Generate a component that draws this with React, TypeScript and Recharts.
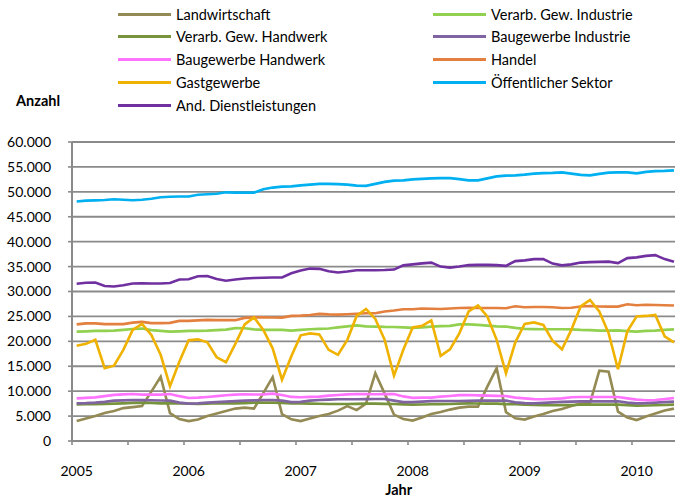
import React from 'react';
import { LineChart, Line, XAxis, YAxis, CartesianGrid, Legend, Label } from 'recharts';

// ---------- data ----------
const yearLabels = ['2005', '2006', '2007', '2008', '2009', '2010'];

const seriesNames = [
  'Landwirtschaft',
  'Verarb. Gew. Industrie',
  'Verarb. Gew. Handwerk',
  'Baugewerbe Industrie',
  'Baugewerbe Handwerk',
  'Handel',
  'Gastgewerbe',
  'Öffentlicher Sektor',
  'And. Dienstleistungen',
];

const seriesColors = [
  '#948A54',
  '#92D050',
  '#77933C',
  '#8064A2',
  '#FF73FF',
  '#E3803F',
  '#F0B200',
  '#00B0F0',
  '#7030A0',
];

// monthly values, Jan 2005 .. May 2010
const landwirtschaft = [
  4000, 4500, 5000, 5600, 6000, 6600, 6800, 7000, 9900, 12900, 5600, 4400,
  4000, 4300, 5000, 5500, 6000, 6500, 6700, 6500, 9600, 12800, 5400, 4350,
  4000, 4500, 5000, 5400, 6100, 7000, 6200, 7500, 13600, 9500, 5300, 4400,
  4100, 4700, 5400, 5800, 6300, 6700, 6900, 6900, 10900, 14600, 5800, 4550,
  4300, 4900, 5400, 6000, 6400, 7000, 7500, 7600, 14100, 13900, 5900, 4700,
  4200, 4900, 5500, 6100, 6500,
];
const verarbIndustrie = [
  21950, 22000, 22090, 22100, 22150, 22300, 22490, 22560, 22250, 22100, 21950, 22000,
  22090, 22100, 22150, 22250, 22350, 22650, 22620, 22400, 22300, 22330, 22300, 22150,
  22300, 22420, 22500, 22560, 22800, 23000, 23200, 23000, 22960, 22900, 22890, 22800,
  22700, 22800, 22960, 23050, 23100, 23400, 23400, 23300, 23150, 23000, 22960, 22700,
  22500, 22450, 22420, 22420, 22420, 22400, 22300, 22250, 22150, 22150, 22200, 22050,
  21950, 22100, 22150, 22300, 22400,
];
const verarbHandwerk = [
  7350, 7380, 7400, 7450, 7500, 7560, 7650, 7700, 7650, 7560, 7560, 7550,
  7500, 7430, 7480, 7560, 7560, 7560, 7600, 7700, 7700, 7700, 7650, 7560,
  7560, 7500, 7460, 7430, 7430, 7430, 7450, 7500, 7500, 7450, 7430, 7350,
  7300, 7330, 7360, 7400, 7430, 7500, 7560, 7530, 7500, 7500, 7400, 7360,
  7300, 7230, 7200, 7160, 7200, 7230, 7260, 7300, 7300, 7300, 7300, 7200,
  7100, 7130, 7160, 7230, 7300,
];
const bauIndustrie = [
  7550, 7600, 7700, 7850, 8100, 8150, 8230, 8200, 8170, 8120, 8100, 7700,
  7500, 7550, 7700, 7800, 7900, 8000, 8100, 8150, 8230, 8230, 8100, 7800,
  7850, 8100, 8230, 8300, 8370, 8370, 8370, 8400, 8430, 8430, 8100, 7800,
  7800, 7900, 8000, 8030, 8030, 8030, 8050, 8100, 8100, 8100, 8100, 7750,
  7600, 7560, 7650, 7760, 7850, 7900, 7950, 7960, 7960, 7960, 7960, 7700,
  7560, 7600, 7700, 7800, 7900,
];
const bauHandwerk = [
  8550, 8650, 8750, 9000, 9250, 9350, 9440, 9300, 9300, 9300, 9440, 9000,
  8630, 8700, 8830, 9000, 9170, 9300, 9370, 9320, 9350, 9500, 9240, 8850,
  8770, 8850, 8900, 9100, 9240, 9350, 9440, 9400, 9380, 9400, 9440, 8950,
  8650, 8700, 8700, 8900, 9040, 9200, 9240, 9150, 9100, 9060, 9040, 8700,
  8550, 8400, 8370, 8450, 8550, 8770, 8830, 8830, 8830, 8830, 8830, 8550,
  8300, 8170, 8230, 8400, 8630,
];
const handel = [
  23400, 23600, 23600, 23450, 23450, 23450, 23750, 23900, 23650, 23650, 23700, 24100,
  24100, 24200, 24300, 24250, 24250, 24250, 24700, 24800, 24800, 24780, 24760, 25100,
  25150, 25300, 25500, 25400, 25350, 25450, 25550, 25630, 25630, 26000, 26200, 26450,
  26450, 26600, 26550, 26500, 26600, 26700, 26750, 26700, 26700, 26700, 26650, 27050,
  26850, 26900, 26900, 26850, 26700, 26750, 27000, 27100, 27000, 26970, 26970, 27450,
  27250, 27350, 27300, 27250, 27200,
];
const gastgewerbe = [
  19100, 19500, 20300, 14600, 15100, 18300, 22300, 23500, 21300, 17300, 11000, 15900,
  20200, 20400, 19800, 16800, 15800, 19500, 23400, 24800, 22300, 18600, 12300, 17000,
  21200, 21600, 21400, 18300, 17300, 20300, 25100, 26500, 24500, 20300, 13100, 18300,
  22800, 23100, 24200, 17100, 18400, 21600, 26000, 27200, 25000, 20300, 13600, 19800,
  23500, 23800, 23300, 20100, 18400, 22300, 27000, 28300, 26000, 21600, 14400, 22000,
  25000, 25100, 25300, 21000, 19800,
];
const oeffentlich = [
  48050, 48240, 48280, 48350, 48500, 48400, 48300, 48400, 48600, 48900, 49000, 49050,
  49050, 49400, 49500, 49600, 49900, 49850, 49850, 49850, 50500, 50850, 51050, 51100,
  51300, 51450, 51600, 51600, 51550, 51450, 51250, 51200, 51600, 52000, 52250, 52300,
  52500, 52600, 52700, 52750, 52750, 52550, 52300, 52300, 52700, 53100, 53250, 53300,
  53450, 53650, 53750, 53800, 53900, 53650, 53400, 53300, 53600, 53850, 53900, 53900,
  53700, 54000, 54150, 54200, 54300,
];
const andDienst = [
  31550, 31750, 31800, 31100, 31000, 31250, 31600, 31650, 31600, 31600, 31700, 32400,
  32450, 33050, 33100, 32500, 32150, 32400, 32600, 32700, 32750, 32800, 32800, 33650,
  34200, 34600, 34550, 34050, 33800, 34000, 34250, 34270, 34270, 34300, 34400, 35250,
  35450, 35650, 35800, 35000, 34800, 35000, 35300, 35350, 35350, 35300, 35150, 36100,
  36250, 36500, 36500, 35600, 35250, 35450, 35800, 35900, 35950, 36000, 35700, 36700,
  36850, 37150, 37300, 36500, 35950,
];

const seriesValues = [
  landwirtschaft, verarbIndustrie, verarbHandwerk, bauIndustrie, bauHandwerk,
  handel, gastgewerbe, oeffentlich, andDienst,
];

const yTicks = [0, 5000, 10000, 15000, 20000, 25000, 30000, 35000, 40000, 45000, 50000, 55000, 60000];
const xTicks = [0, 6, 12, 18, 24, 30, 36, 42, 48, 54, 60, 66];

// table built from the arrays; x is the month slot centre
const data = landwirtschaft.map((_, i) => {
  const row: Record<string, number> = { t: i + 0.5 };
  seriesValues.forEach((arr, k) => { row['s' + k] = arr[i]; });
  return row;
});

// ---------- layout ----------
const FONT = 'Lato, "Noto Sans", sans-serif';
const CHART_W = 740;
const CHART_H = 497;
const PLOT_LEFT = 72;
const X_SPAN = 70; // months shown on the (partly cropped) axis
const MONTH_PX = 9.333;
const MARGIN_RIGHT = CHART_W - PLOT_LEFT - X_SPAN * MONTH_PX;
const GRID = '#8A8A8A';

const fmt = (v: number) => {
  if (v === 0) return '0';
  const th = Math.floor(v / 1000);
  const rest = String(v % 1000).padStart(3, '0');
  return `${th}.${rest}`;
};

const XTick = (props: any) => {
  const { x, y, payload } = props;
  const v = payload.value as number;
  if (v % 12 !== 0) return null;
  const label = yearLabels[v / 12];
  if (!label) return null;
  return (
    <text x={x + MONTH_PX / 2} y={y} dy="0.71em" textAnchor="middle" fontSize={14} fontFamily={FONT} fill="#000">
      {label}
    </text>
  );
};

const LegendBox = () => (
  <div style={{ position: 'relative', width: 675, height: 118, fontFamily: FONT, fontSize: 14.5, color: '#000' }}>
    {seriesNames.map((n, k) => {
      const col = k % 2;
      const row = Math.floor(k / 2);
      return (
        <div
          key={n}
          style={{
            position: 'absolute',
            left: 118 + col * 315,
            top: 14 + row * 22.75 - 10,
            height: 20,
            display: 'flex',
            alignItems: 'center',
            whiteSpace: 'nowrap',
          }}
        >
          <span style={{ display: 'inline-block', width: 53, height: 3, background: seriesColors[k] }} />
          <span style={{ marginLeft: 5 }}>{n}</span>
        </div>
      );
    })}
  </div>
);

const AnzahlLabel = (props: any) => {
  const vb = props.viewBox || { x: 0, y: 0 };
  return (
    <text x={vb.x + 16} y={vb.y - 36} fontSize={14.5} fontWeight={700} fontFamily={FONT} fill="#000">
      Anzahl
    </text>
  );
};

export default function App() {
  return (
    <div style={{ position: 'fixed', left: 0, top: 0, width: 675, height: 497, overflow: 'hidden', background: '#fff' }}>
      <LineChart
        width={CHART_W}
        height={CHART_H}
        data={data}
        margin={{ top: 142, right: MARGIN_RIGHT, left: 0, bottom: 0 }}
        style={{ fontFamily: FONT }}
      >
        <CartesianGrid vertical={false} stroke={GRID} strokeWidth={1.8} />
        <XAxis
          dataKey="t"
          type="number"
          domain={[0, X_SPAN]}
          ticks={xTicks}
          allowDataOverflow
          height={56}
          axisLine={{ stroke: GRID, strokeWidth: 2 }}
          tickLine={{ stroke: GRID, strokeWidth: 1.6 }}
          tickSize={4}
          tickMargin={21}
          tick={<XTick />}
          interval={0}
        >
          <Label value="Jahr" position="insideBottom" offset={2} fontSize={14.5} fontWeight={700} fontFamily={FONT} fill="#000" />
        </XAxis>
        <YAxis
          width={PLOT_LEFT}
          domain={[0, 60000]}
          ticks={yTicks}
          interval={0}
          tickFormatter={fmt}
          axisLine={{ stroke: GRID, strokeWidth: 2 }}
          tickLine={{ stroke: GRID, strokeWidth: 1.6 }}
          tickSize={4}
          tickMargin={17}
          tick={{ fontSize: 14, fill: '#000', fontFamily: FONT }}
        >
          <Label content={<AnzahlLabel />} position="top" />
        </YAxis>
        <Legend
          layout="vertical"
          align="center"
          verticalAlign="middle"
          wrapperStyle={{ top: 0, left: 0, width: 675, height: 118 }}
          content={() => <LegendBox />}
        />
        {seriesNames.map((n, k) => (
          <Line
            key={n}
            type="linear"
            dataKey={'s' + k}
            name={n}
            stroke={seriesColors[k]}
            strokeWidth={2.6}
            dot={false}
            activeDot={false}
            isAnimationActive={false}
          />
        ))}
      </LineChart>
    </div>
  );
}
